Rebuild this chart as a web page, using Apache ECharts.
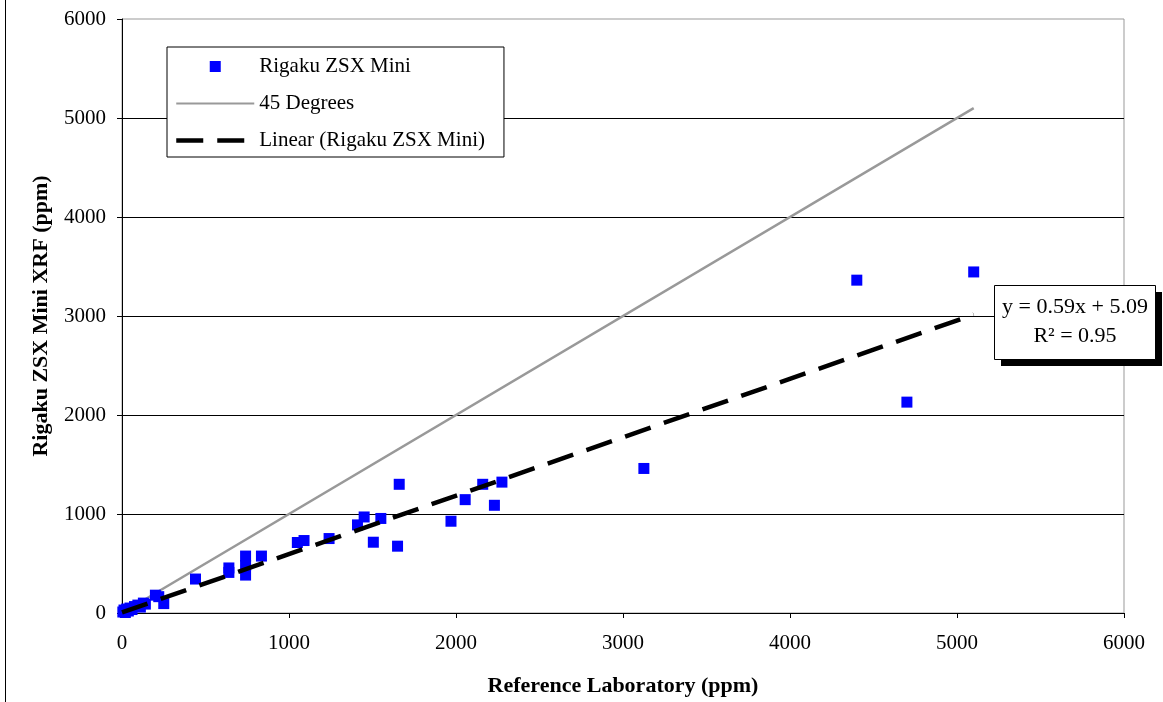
<!DOCTYPE html>
<html>
<head>
<meta charset="utf-8">
<script src="https://cdn.jsdelivr.net/npm/echarts@6/dist/echarts.min.js"></script>
<style>
html,body{margin:0;padding:0;background:#fff;}
#chart{width:1163px;height:702px;}
</style>
</head>
<body>
<div id="chart"></div>
<script>
// Data
const refLab = [5, 12, 20, 28, 38, 48, 60, 75, 95, 110, 128, 140, 200, 220, 250, 440, 640, 640, 740, 740, 740, 835, 1050, 1090, 1240, 1410, 1450, 1505, 1550, 1650, 1660, 1970, 2055, 2160, 2230, 2275, 3125, 4400, 4700, 5100];
const rigaku = [10, 30, 5, 40, 20, 50, 35, 65, 80, 60, 100, 90, 180, 165, 95, 343, 455, 410, 575, 480, 383, 575, 712, 732, 752, 890, 970, 715, 955, 675, 1300, 927, 1145, 1300, 1088, 1322, 1460, 3362, 2130, 3445];
const diagX = [0, 5100];          // 45 degree reference line
const trendX = [0, 5100];         // extent of linear trendline
const slope = 0.59, intercept = 5.09;
const xTicks = [0, 1000, 2000, 3000, 4000, 5000, 6000];
const yTicks = [0, 1000, 2000, 3000, 4000, 5000, 6000];
const seriesNames = ['Rigaku ZSX Mini', '45 Degrees', 'Linear (Rigaku ZSX Mini)'];
const eqText = ['y = 0.59x + 5.09', 'R\u00B2 = 0.95'];

const FONT = 'Liberation Serif';
const chart = echarts.init(document.getElementById('chart'), null, {renderer: 'canvas'});

const scatterData = refLab.map((x, i) => [x, rigaku[i]]);
const diagData = diagX.map(x => [x, x]);
const trendData = trendX.map(x => [x, slope * x + intercept]);

const axisCommon = {
  type: 'value',
  min: xTicks[0],
  max: xTicks[xTicks.length - 1],
  interval: 1000,
  axisLine: {show: true, onZero: false, lineStyle: {color: '#000', width: 1}},
  axisTick: {show: true, inside: false, length: 5, lineStyle: {color: '#000', width: 1}},
  axisLabel: {color: '#000', fontFamily: FONT, fontSize: 21, formatter: v => String(v)},
  nameTextStyle: {color: '#000', fontFamily: FONT, fontSize: 22, fontWeight: 'bold'},
  nameLocation: 'middle'
};

const option = {
  backgroundColor: '#fff',
  animation: false,
  grid: {
    left: 122, right: 39, top: 19, bottom: 88,
    show: true, borderColor: '#999', borderWidth: 1, backgroundColor: 'transparent'
  },
  xAxis: Object.assign({}, axisCommon, {
    name: 'Reference Laboratory (ppm)',
    nameGap: 62,
    axisLabel: Object.assign({}, axisCommon.axisLabel, {margin: 20}),
    splitLine: {show: false}
  }),
  yAxis: Object.assign({}, axisCommon, {
    min: yTicks[0],
    max: yTicks[yTicks.length - 1],
    name: 'Rigaku ZSX Mini XRF (ppm)',
    nameGap: 70,
    nameRotate: 90,
    axisLabel: Object.assign({}, axisCommon.axisLabel, {margin: 16}),
    splitLine: {show: true, showMinLine: false, showMaxLine: false, lineStyle: {color: '#000', width: 1}}
  }),
  legend: {
    show: true,
    orient: 'vertical',
    left: 167,
    top: 47,
    padding: [9, 19, 6, 7],
    itemWidth: 78,
    itemHeight: 11,
    itemGap: 16,
    backgroundColor: '#fff',
    borderColor: '#000',
    borderWidth: 1,
    borderRadius: 0,
    symbolKeepAspect: true,
    textStyle: {color: '#000', fontFamily: FONT, fontSize: 21},
    data: [
      {name: seriesNames[0], icon: 'path://M0,0L10,0L10,10L0,10Z'},
      {name: seriesNames[1], itemStyle: {opacity: 0}, lineStyle: {width: 2, color: '#999'}},
      {name: seriesNames[2], itemStyle: {opacity: 0}, lineStyle: {width: 4.5, color: '#000', type: [27, 14]}}
    ]
  },
  series: [
    {
      name: seriesNames[1],
      type: 'line',
      data: diagData,
      symbol: 'none',
      lineStyle: {color: '#999', width: 2.5},
      itemStyle: {color: '#999'},
      z: 2
    },
    {
      name: seriesNames[0],
      type: 'scatter',
      data: scatterData,
      symbol: 'rect',
      symbolSize: 11,
      itemStyle: {color: '#0000FF', opacity: 1},
      z: 3
    },
    {
      name: seriesNames[2],
      type: 'line',
      data: trendData,
      symbol: 'none',
      lineStyle: {color: '#000', width: 4.5, type: [27, 14]},
      itemStyle: {color: '#000'},
      z: 4
    }
  ],
  graphic: [
    {type: 'line', shape: {x1: 5.5, y1: 0, x2: 5.5, y2: 702}, style: {stroke: '#000', lineWidth: 1}, z: 10},
    {type: 'rect', shape: {x: 1001, y: 292, width: 161, height: 74}, style: {fill: '#000'}, z: 10},
    {type: 'rect', shape: {x: 994.5, y: 285.5, width: 161, height: 74}, style: {fill: '#fff', stroke: '#000', lineWidth: 1}, z: 11},
    {type: 'text', x: 1075, y: 307, style: {text: eqText[0], fill: '#000', font: '22px "' + FONT + '"', textAlign: 'center', textVerticalAlign: 'middle'}, z: 12},
    {type: 'text', x: 1075, y: 336, style: {text: eqText[1], fill: '#000', font: '22px "' + FONT + '"', textAlign: 'center', textVerticalAlign: 'middle'}, z: 12}
  ]
};
chart.setOption(option);
</script>
</body>
</html>
